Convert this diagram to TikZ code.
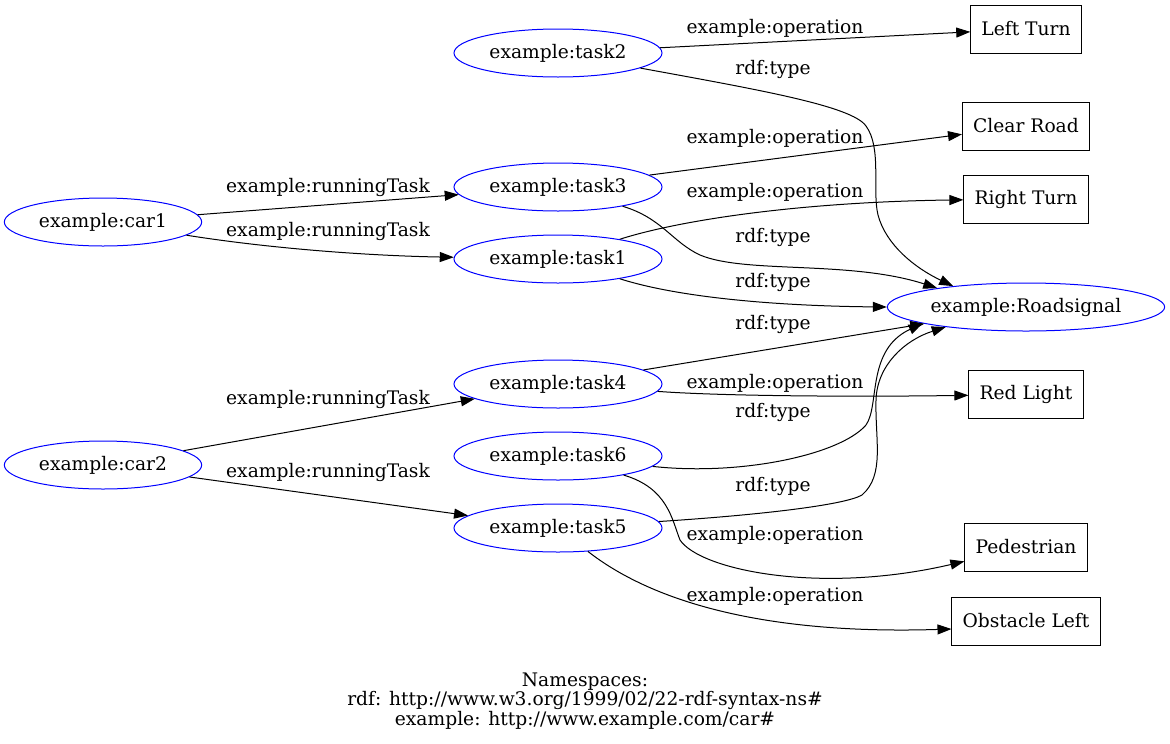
\documentclass[tikz,border=0pt]{standalone}
\usepackage{fontspec}
\setmainfont{DejaVu Serif}
\usetikzlibrary{arrows.meta,shapes.geometric}

\begin{document}
\begin{tikzpicture}[x=0.75pt, y=-0.75pt, font=\fontsize{14}{13.1}\selectfont,
    res/.style={ellipse, draw=blue, line width=0.75pt, inner sep=0pt, minimum height=36pt, minimum width=#1},
    lit/.style={rectangle, draw=black, line width=0.75pt, inner xsep=8pt, minimum height=36pt},
    lbl/.style={inner sep=0pt},
    arr/.style={-{Triangle[length=10.5pt,width=7.5pt]}, line width=0.75pt}]
\useasboundingbox (0,0) rectangle (1170,743);

% resources
\node[res=148pt] (car1) at (103,222) {example:car1};
\node[res=148pt] (car2) at (103,465) {example:car2};
\foreach \i/\y in {2/53,3/187,1/259,4/384,6/456,5/528} {
  \node[res=156pt] (task\i) at (558,\y) {example:task\i};
}
\node[res=208pt] (road) at (1026,307) {example:Roadsignal};

% literals
\node[lit] (lturn) at (1026,29) {Left Turn};
\node[lit] (clear) at (1026,126) {Clear Road};
\node[lit] (rturn) at (1026,199) {Right Turn};
\node[lit] (red) at (1026,394.5) {Red Light};
\node[lit] (ped) at (1026,547) {Pedestrian};
\node[lit] (obst) at (1026,621) {Obstacle Left};

% edge labels
\foreach \nm/\x/\y/\t in {rt1/328/187/example:runningTask, rt2/328/231/example:runningTask,
    rt3/328/399/example:runningTask, rt4/328/472/example:runningTask,
    op2/775/28/example:operation, op3/775/138/example:operation, op1/775/192/example:operation,
    op4/775/383/example:operation, op6/775/535/example:operation, op5/775/596/example:operation,
    ty2/773/69/rdf:type, ty3/773/237/rdf:type, ty1/773/282/rdf:type,
    ty4/773/324/rdf:type, ty6/773/412/rdf:type, ty5/773/486/rdf:type} {
  \node[lbl] (\nm) at (\x,\y) {\t};
}

% runningTask
\draw[arr] (car1) -- (task3);
\draw[arr] (car1) .. controls (280,250) and (380,256) .. (task1);
\draw[arr] (car2) -- (task4);
\draw[arr] (car2) -- (task5);

% operation
\draw[arr] (task2) -- (lturn);
\draw[arr] (task3) -- (clear);
\draw[arr] (task1) .. controls (680,220) and (800,202) .. (rturn);
\draw[arr] (task4) .. controls (720,396) and (850,397) .. (red);
\draw[arr] (task6) .. controls (668,488) and (672,520) .. (680,540)
  .. controls (700,570) and (820,595) .. (ped);
\draw[arr] (task5) .. controls (650,600) and (760,635) .. ([yshift=-6pt]obst.west);

% rdf:type
\draw[arr] (task2) .. controls (760,90) and (852,106) .. (866,126)
  .. controls (882,148) and (872,190) .. (878,215)
  .. controls (886,245) and (915,268) .. (road.164);
\draw[arr] (task3) .. controls (662,218) and (672,242) .. (700,255)
  .. controls (745,274) and (850,260) .. (road.168);
\draw[arr] (task1) .. controls (680,298) and (780,306) .. (road.west);
\draw[arr] (task4) -- (road);
\draw[arr] (task6) .. controls (740,476) and (840,455) .. (866,425)
  .. controls (880,405) and (866,350) .. (road.189);
\draw[arr] (task5) .. controls (760,515) and (845,505) .. (862,495)
  .. controls (885,475) and (875,440) .. (876,400)
  .. controls (877,365) and (905,340) .. (road.194);

\node[align=center] (ns) at (585,701) {Namespaces:\\rdf: http://www.w3.org/1999/02/22-rdf-syntax-ns\#\\example: http://www.example.com/car\#};
\end{tikzpicture}
\end{document}
